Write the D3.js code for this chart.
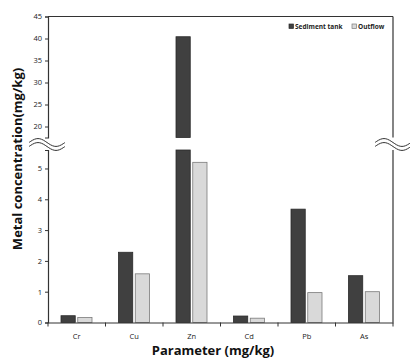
<!DOCTYPE html>
<html>
<head>
<meta charset="utf-8">
<script src="https://cdn.jsdelivr.net/npm/d3@7"></script>
<style>
  body { margin: 0; background: #fff; }
  text { font-family: "Open Sans", sans-serif; }
</style>
</head>
<body>
<div id="chart"></div>
<script>
// data
const categories = ["Cr", "Cu", "Zn", "Cd", "Pb", "As"];
const seriesNames = ["Sediment tank", "Outflow"];
const sediment = [0.22, 2.28, 40.4, 0.21, 3.68, 1.52];
const outflow = [0.16, 1.58, 5.2, 0.14, 0.97, 1.0];
const lowerTicks = [0, 1, 2, 3, 4, 5];
const upperTicks = [20, 25, 30, 35, 40, 45];

const width = 410;
const height = 360;
const colors = ["#404040", "#d9d9d9"];
const strokes = ["#2a2a2a", "#7a7a7a"];

const svg = d3.select("#chart")
    .append("svg")
    .attr("width", width)
    .attr("height", height);

// x scales
const x = d3.scaleBand().domain(categories).range([48, 393]).paddingInner(0);
const xInner = d3.scaleBand().domain(seriesNames).range([13, 44]).paddingInner(0.15);

// broken y axis: two segments
const yLow = d3.scaleLinear().domain([0, 5.6]).range([322.5, 150]);
const yHigh = d3.scaleLinear().domain([17.5, 45]).range([137.5, 16.5]);

const rows = categories.map((c, i) => ({ cat: c, values: [sediment[i], outflow[i]] }));

// bars
const groups = svg.append("g")
    .selectAll("g")
    .data(rows)
    .enter().append("g")
    .attr("transform", d => `translate(${x(d.cat)},0)`);

seriesNames.forEach((s, si) => {
    // lower segment
    groups.append("rect")
        .attr("x", xInner(s))
        .attr("width", xInner.bandwidth())
        .attr("y", d => yLow(Math.min(d.values[si], 5.6)))
        .attr("height", d => yLow(0) - yLow(Math.min(d.values[si], 5.6)))
        .attr("fill", colors[si])
        .attr("stroke", strokes[si])
        .attr("stroke-width", 0.8);
    // upper segment, only for values above the break
    groups.filter(d => d.values[si] > 17.5)
        .append("rect")
        .attr("x", xInner(s))
        .attr("width", xInner.bandwidth())
        .attr("y", d => yHigh(d.values[si]))
        .attr("height", d => yHigh(17.5) - yHigh(d.values[si]))
        .attr("fill", colors[si])
        .attr("stroke", strokes[si])
        .attr("stroke-width", 0.8);
});

// y axes
const axisLow = svg.append("g")
    .attr("transform", "translate(48,0)")
    .call(d3.axisLeft(yLow).tickValues(lowerTicks).tickSize(3).tickPadding(3).tickFormat(d3.format("d")));
const axisHigh = svg.append("g")
    .attr("transform", "translate(48,0)")
    .call(d3.axisLeft(yHigh).tickValues(upperTicks).tickSize(3).tickPadding(3).tickFormat(d3.format("d")));
[axisLow, axisHigh].forEach(a => {
    a.select(".domain").attr("stroke", "#333").attr("stroke-width", 1.2);
    a.selectAll(".tick line").attr("stroke", "#333");
    a.selectAll(".tick text").attr("font-size", "7.5px").attr("fill", "#222");
});

// frame: top and right side
svg.append("line").attr("x1", 48).attr("x2", 393).attr("y1", 16.5).attr("y2", 16.5)
    .attr("stroke", "#333").attr("stroke-width", 1.2);
svg.append("line").attr("x1", 393).attr("x2", 393).attr("y1", 16.5).attr("y2", 137.5)
    .attr("stroke", "#333").attr("stroke-width", 1.2);
svg.append("line").attr("x1", 393).attr("x2", 393).attr("y1", 150).attr("y2", 322.5)
    .attr("stroke", "#333").attr("stroke-width", 1.2);

// x axis
const xAxis = svg.append("g")
    .attr("transform", `translate(0,${yLow(0)})`)
    .call(d3.axisBottom(x).tickSize(0).tickPadding(11));
xAxis.select(".domain").attr("stroke", "#333").attr("stroke-width", 1.2);
xAxis.selectAll(".tick text").attr("font-size", "7.5px").attr("fill", "#222");
xAxis.selectAll("line.sep")
    .data(categories.concat(["end"]))
    .enter().append("line")
    .attr("class", "sep")
    .attr("x1", (d, i) => i < categories.length ? x(d) : x.range()[1])
    .attr("x2", (d, i) => i < categories.length ? x(d) : x.range()[1])
    .attr("y1", 0).attr("y2", 4)
    .attr("stroke", "#333");

// break marks (double waves)
function wave(cx, cy) {
    const pts = d3.range(0, 1.001, 0.05).map(t => [cx - 18 + 36 * t, cy - 4 * Math.sin(t * 2 * Math.PI)]);
    const line = d3.line().curve(d3.curveBasis);
    const g = svg.append("g");
    [-2, 2].forEach(off => {
        g.append("path")
            .attr("d", line(pts.map(p => [p[0], p[1] + off])))
            .attr("fill", "none")
            .attr("stroke", "#333")
            .attr("stroke-width", 1);
    });
}
wave(47, 144.5);
wave(393, 144.5);

// legend
const legend = svg.append("g").attr("transform", "translate(289,27)");
const legendX = [0, 63];
seriesNames.forEach((s, i) => {
    legend.append("rect")
        .attr("x", legendX[i]).attr("y", -3)
        .attr("width", 4.5).attr("height", 4.5)
        .attr("fill", colors[i]).attr("stroke", strokes[i]).attr("stroke-width", 0.7);
    legend.append("text")
        .attr("x", legendX[i] + 6).attr("y", 2)
        .attr("font-size", "6.5px").attr("font-weight", "bold").attr("fill", "#222")
        .text(s);
});

// axis titles
svg.append("text")
    .attr("x", 213).attr("y", 355)
    .attr("text-anchor", "middle")
    .attr("font-size", "13px").attr("font-weight", "bold").attr("fill", "#111")
    .text("Parameter (mg/kg)");
svg.append("text")
    .attr("transform", "translate(22,159) rotate(-90)")
    .attr("text-anchor", "middle")
    .attr("font-size", "13px").attr("font-weight", "bold").attr("fill", "#111")
    .text("Metal concentration(mg/kg)");
</script>
</body>
</html>
